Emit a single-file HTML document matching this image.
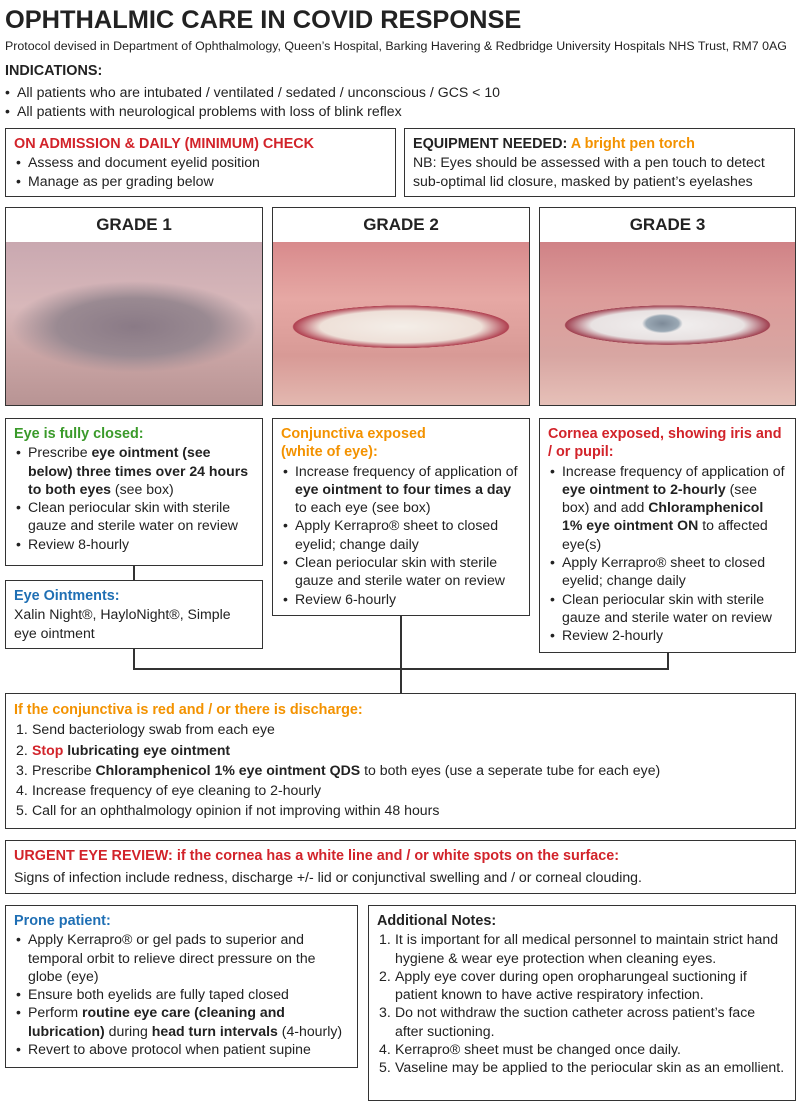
<!DOCTYPE html>
<html><head><meta charset="utf-8"><style>
*{margin:0;padding:0;box-sizing:border-box}
body{width:800px;height:1114px;background:#fff;font-family:"Liberation Sans",sans-serif;color:#222;position:relative;overflow:hidden;font-size:14.1px;line-height:18.3px}
.a{position:absolute}
.box{position:absolute;border:1.5px solid #333;background:#fff}
.red{color:#d2232a}.or{color:#f39200}.gr{color:#3a9a2a}.bl{color:#1f6fb4}
b{font-weight:bold}
ul,ol{list-style:none}
li{position:relative;padding-left:14px}
ul li:before{content:"•";position:absolute;left:2px}
ol{counter-reset:n}
ol li{padding-left:18px}
ol li:before{counter-increment:n;content:counter(n) ".";position:absolute;left:2px}
.hd{font-weight:bold;font-size:14.4px}
.gh{position:absolute;border:1.5px solid #333;height:36px;text-align:center;font-weight:bold;font-size:17px;line-height:34px}
.ph{position:absolute;border:1.5px solid #333;border-top:none}
.ln{position:absolute;background:#333}
</style></head><body>
<div class="a" style="left:5px;top:3px;font-size:25.4px;line-height:34px;font-weight:bold;color:#222">OPHTHALMIC CARE IN COVID RESPONSE</div>
<div class="a" style="left:5px;top:37px;font-size:12.4px;white-space:nowrap">Protocol devised in Department of Ophthalmology, Queen’s Hospital, Barking Havering &amp; Redbridge University Hospitals NHS Trust, RM7 0AG</div>
<div class="a hd" style="left:5px;top:62px">INDICATIONS:</div>
<ul class="a" style="left:3px;top:83px;font-size:14.1px;line-height:19px"><li>All patients who are intubated / ventilated / sedated / unconscious / GCS &lt; 10</li><li>All patients with neurological problems with loss of blink reflex</li></ul>

<div class="box" style="left:5px;top:128px;width:391px;height:69px;padding:6px 8px"><div class="hd red">ON ADMISSION &amp; DAILY (MINIMUM) CHECK</div><ul><li>Assess and document eyelid position</li><li>Manage as per grading below</li></ul></div>
<div class="box" style="left:404px;top:128px;width:391px;height:69px;padding:6px 8px"><div class="hd">EQUIPMENT NEEDED: <span class="or">A bright pen torch</span></div>NB: Eyes should be assessed with a pen touch to detect sub-optimal lid closure, masked by patient’s eyelashes</div>

<div class="gh" style="left:5px;top:207px;width:258px">GRADE 1</div>
<div class="gh" style="left:272px;top:207px;width:258px">GRADE 2</div>
<div class="gh" style="left:539px;top:207px;width:257px">GRADE 3</div>
<div class="ph" style="left:5px;top:242px;width:258px;height:164px;background:radial-gradient(ellipse 60% 35% at 50% 52%,#8a7a86 0%,#9a8a92 50%,transparent 80%),linear-gradient(180deg,#c9a8b0,#d8b8ba 40%,#c9a4a4 70%,#b89494)"></div>
<div class="ph" style="left:272px;top:242px;width:258px;height:164px;background:radial-gradient(ellipse 42% 13% at 50% 52%,#f4eee8 0%,#eee0d8 75%,#b04050 100%,transparent 101%),linear-gradient(180deg,#d88a8c,#e6a8a4 35%,#d89a96 70%,#e3b8b0)"></div>
<div class="ph" style="left:539px;top:242px;width:257px;height:164px;background:radial-gradient(ellipse 8% 6% at 48% 50%,#7d8a98 0%,#9aa8b4 80%,transparent 100%),radial-gradient(ellipse 40% 12% at 50% 51%,#f2f0f0 0%,#e8e2e2 75%,#a04050 100%,transparent 101%),linear-gradient(180deg,#d08286,#dc9c9a 35%,#d8a6a2 70%,#e6c0b8)"></div>

<div class="box" style="left:5px;top:418px;width:258px;height:148px;padding:6px 8px"><div class="hd gr">Eye is fully closed:</div><ul><li>Prescribe <b>eye ointment (see below) three times over 24 hours to both eyes</b> (see box)</li><li>Clean periocular skin with sterile gauze and sterile water on review</li><li>Review 8-hourly</li></ul></div>
<div class="box" style="left:272px;top:418px;width:258px;height:198px;padding:6px 8px"><div class="hd or">Conjunctiva exposed<br>(white of eye):</div><ul><li>Increase frequency of application of <b>eye ointment to four times a day</b> to each eye (see box)</li><li>Apply Kerrapro® sheet to closed eyelid; change daily</li><li>Clean periocular skin with sterile gauze and sterile water on review</li><li>Review 6-hourly</li></ul></div>
<div class="box" style="left:539px;top:418px;width:257px;height:235px;padding:6px 8px"><div class="hd red">Cornea exposed, showing iris and / or pupil:</div><ul><li>Increase frequency of application of <b>eye ointment to 2-hourly</b> (see box) and add <b>Chloramphenicol 1% eye ointment ON</b> to affected eye(s)</li><li>Apply Kerrapro® sheet to closed eyelid; change daily</li><li>Clean periocular skin with sterile gauze and sterile water on review</li><li>Review 2-hourly</li></ul></div>
<div class="box" style="left:5px;top:580px;width:258px;height:69px;padding:6px 8px"><div class="hd bl">Eye Ointments:</div>Xalin Night®, HayloNight®, Simple eye ointment</div>

<div class="ln" style="left:133px;top:566px;width:1.5px;height:14px"></div>
<div class="ln" style="left:133px;top:649px;width:1.5px;height:20px"></div>
<div class="ln" style="left:400px;top:616px;width:1.5px;height:78px"></div>
<div class="ln" style="left:667px;top:653px;width:1.5px;height:16px"></div>
<div class="ln" style="left:133px;top:668px;width:536px;height:1.5px"></div>

<div class="box" style="left:5px;top:693px;width:791px;height:136px;padding:7px 8px"><div class="hd or">If the conjunctiva is red and / or there is discharge:</div><ol style="line-height:20.3px"><li>Send bacteriology swab from each eye</li><li><b class="red">Stop</b> <b>lubricating eye ointment</b></li><li>Prescribe <b>Chloramphenicol 1% eye ointment QDS</b> to both eyes (use a seperate tube for each eye)</li><li>Increase frequency of eye cleaning to 2-hourly</li><li>Call for an ophthalmology opinion if not improving within 48 hours</li></ol></div>

<div class="box" style="left:5px;top:840px;width:791px;height:54px;padding:6px 8px"><div class="hd red">URGENT EYE REVIEW: if the cornea has a white line and / or white spots on the surface:</div><div style="margin-top:3px">Signs of infection include redness, discharge +/- lid or conjunctival swelling and / or corneal clouding.</div></div>

<div class="box" style="left:5px;top:905px;width:353px;height:163px;padding:6px 8px"><div class="hd bl">Prone patient:</div><ul><li>Apply Kerrapro® or gel pads to superior and temporal orbit to relieve direct pressure on the globe (eye)</li><li>Ensure both eyelids are fully taped closed</li><li>Perform <b>routine eye care (cleaning and lubrication)</b> during <b>head turn intervals</b> (4-hourly)</li><li>Revert to above protocol when patient supine</li></ul></div>
<div class="box" style="left:368px;top:905px;width:428px;height:196px;padding:6px 8px"><div class="hd">Additional Notes:</div><ol><li>It is important for all medical personnel to maintain strict hand hygiene &amp; wear eye protection when cleaning eyes.</li><li>Apply eye cover during open oropharungeal suctioning if patient known to have active respiratory infection.</li><li>Do not withdraw the suction catheter across patient’s face after suctioning.</li><li>Kerrapro® sheet must be changed once daily.</li><li>Vaseline may be applied to the periocular skin as an emollient.</li></ol></div>
</body></html>
